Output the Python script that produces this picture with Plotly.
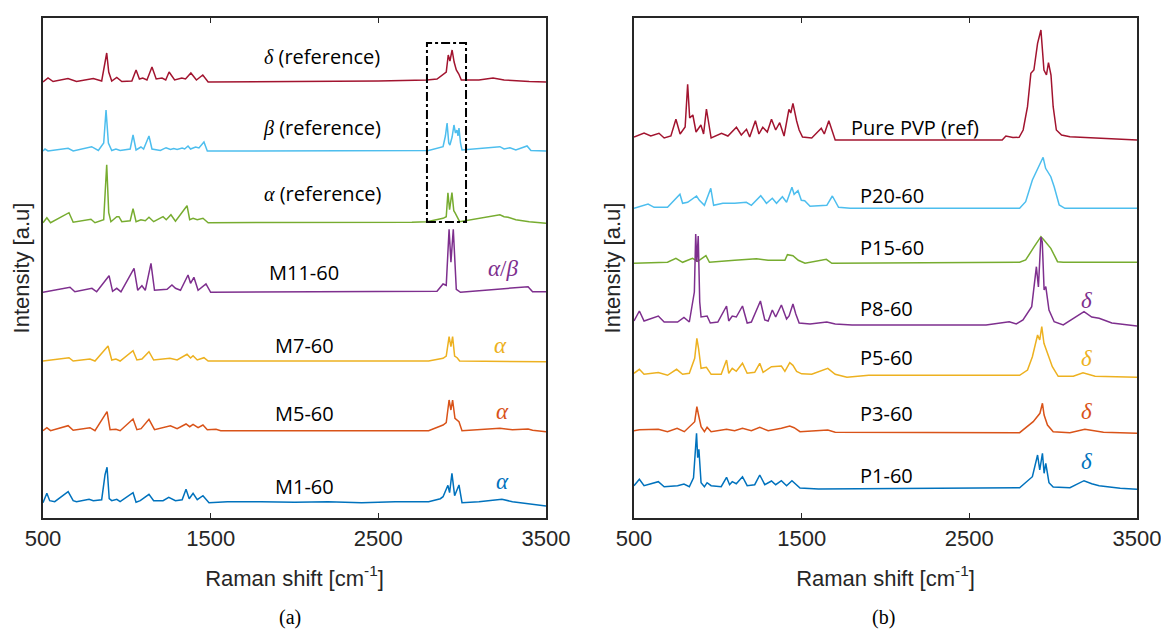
import plotly.graph_objects as go

# ---------------- Panel (a) spectra: Raman shift [cm-1] and intensity above each baseline ----------------
A_DELTA_X = [500, 530, 560, 649, 700, 800, 850, 870, 880, 892, 910, 940, 970, 1030, 1055, 1075, 1095, 1120, 1150, 1175,
             1210, 1232, 1252, 1285, 1328, 1350, 1382, 1415, 1453, 1485, 1600, 2000, 2500, 2790, 2850, 2886, 2905, 2917,
             2927, 2940, 2952, 2965, 2980, 2995, 3010, 3100, 3184, 3250, 3400, 3500]
A_DELTA_Y = [0, 4, 0.5, 3.5, 0.5, 3.5, 1, 20, 29, 10, 1, 4.5, 0.5, 1, 12, 3, 4, 2, 15, 3,
             4, 2, 10, 2, 4, 3, 9, 2, 7, 0, 0, 0.5, 1, 2, 3, 7, 10, 27,
             21, 32, 20, 12, 8, 2, 2, 2, 4, 2, 0.5, 0]

A_BETA_X = [500, 512, 530, 650, 680, 790, 830, 862, 876, 890, 910, 935, 960, 1020, 1037, 1055, 1084, 1100, 1132, 1150,
            1200, 1234, 1260, 1280, 1300, 1330, 1345, 1365, 1380, 1410, 1430, 1460, 1480, 2800, 2886, 2900, 2910, 2920,
            2927, 2940, 2951, 2960, 2969, 2975, 2981, 2990, 2999, 3225, 3250, 3285, 3320, 3387, 3410, 3500]
A_BETA_Y = [0, 2, 0, 2.7, 0, 4.3, 0.5, 8, 41, 8, 0.5, 2, 0.5, 2, 16, 1, 4, 2, 15, 2,
            0.5, 3.3, 1.5, 2.5, 1.5, 3, 2, 5, 2, 4, 3, 9, 0, 0.5, 4.3, 15, 28, 8,
            6, 14, 26, 18, 21, 15, 23, 8, 1, 4.3, 2, 3.3, 1, 5, 0.5, 0]

A_ALPHA_X = [500, 523, 545, 655, 680, 786, 810, 862, 872, 880, 892, 905, 940, 953, 970, 1020, 1037, 1055, 1084, 1110,
             1132, 1160, 1216, 1235, 1263, 1290, 1359, 1375, 1395, 1420, 1454, 1485, 2700, 2790, 2886, 2905, 2915,
             2925, 2939, 2950, 2957, 2970, 2985, 3225, 3250, 3274, 3320, 3400, 3500]
A_ALPHA_Y = [0, 5, 0, 10, 0.5, 3.4, 0, 3, 34, 58, 10, 1, 6, 6, 1, 2, 14, 1, 3, 2,
             5.4, 1, 6, 3, 8, 1.5, 17, 3, 4.4, 3, 4.4, 0, 0.5, 1, 4.4, 6, 30,
             13, 30, 12, 10, 6, 1, 8, 6, 5.4, 3, 1, -0.6]

A_M11_X = [500, 661, 690, 792, 820, 894, 915, 940, 965, 1043, 1065, 1090, 1110, 1144, 1165, 1240, 1269, 1290, 1320,
           1365, 1380, 1400, 1425, 1472, 1500, 2700, 2850, 2886, 2905, 2922, 2933, 2947, 2956, 2965, 2990, 3393, 3420,
           3500]
A_M11_Y = [0, 5, 0.5, 4, 0.5, 16.6, 1, 4, 0.5, 24, 2, 6.6, 2, 29, 2, 3, 7.3, 4, 2,
           17.3, 9, 15, 2, 8.3, 0, 0.5, 1, 8.3, 7, 63, 30, 63, 24, 3, 0, 5.6, 0.5,
           0.6]

A_M7_X = [500, 655, 680, 780, 810, 888, 910, 935, 960, 1037, 1060, 1090, 1132, 1160, 1257, 1300, 1359, 1380, 1395,
          1420, 1460, 1485, 2800, 2886, 2905, 2922, 2933, 2943, 2955, 2970, 2985, 3500]
A_M7_Y = [0, 3.3, 0, 2, 0, 15, 1, 2, 0, 10.3, 1, 2, 9.3, 1, 2.7, 1, 6.7, 3, 5.3,
          1, 3.3, 0, 0, 2.7, 5, 24.3, 14.3, 24.3, 5, 3.3, 0, -0.7]

A_M5_X = [500, 523, 545, 650, 680, 780, 810, 882, 900, 935, 960, 1037, 1060, 1085, 1132, 1165, 1260, 1300, 1353,
          1375, 1395, 1425, 1454, 1480, 1532, 1560, 2800, 2886, 2905, 2922, 2933, 2943, 2957, 2981, 2999, 3225, 3300,
          3393, 3420, 3500]
A_M5_Y = [0, 3, 0, 5, 0.5, 3, 0, 19, 1, 1.5, 0, 11.7, 1, 2, 11.4, 1, 5, 2, 6.7,
          4, 6.4, 3, 5.7, 1, 1.4, 0, 0, 5.7, 8, 30.7, 20.7, 30.7, 12.4, 9, 0, 2.4, 1,
          1.7, 0.5, -1]

A_M1_X = [500, 523, 540, 570, 650, 680, 700, 775, 800, 850, 870, 882, 895, 910, 940, 960, 1037, 1055, 1080, 1132,
          1160, 1216, 1250, 1290, 1330, 1353, 1372, 1395, 1420, 1454, 1490, 1600, 1800, 2000, 2200, 2400, 2600, 2800,
          2870, 2886, 2915, 2925, 2939, 2955, 2981, 2999, 3100, 3237, 3300, 3500]
A_M1_Y = [0, 9.4, 2, 1, 11, 2, 1, 3.4, 2, 3, 28, 35.4, 4, 2, 3.4, 1, 10, 0.5, 2, 8.4,
          2, 2, 5.4, 2, 3, 13.4, 4, 9.4, 3, 7, 0, 1, 1, 0.5, 1, 0, 1, 1,
          4, 6, 17.4, 10, 29.4, 7, 17.7, 0, 1, 3.4, 1, -3.3]

A_NAMES = ["δ (reference)", "β (reference)", "α (reference)", "M11-60", "M7-60", "M5-60", "M1-60"]
A_OFFSETS = [436, 367, 295.3, 225.7, 157, 87.3, 15.3]

# ---------------- Panel (b) spectra ----------------
B_PVP_X = [500, 560, 600, 649, 680, 720, 750, 775, 805, 820, 832, 851, 870, 899, 915, 932, 960, 1022, 1060, 1111,
           1140, 1171, 1190, 1224, 1245, 1268, 1295, 1320, 1345, 1369, 1395, 1424, 1435, 1448, 1470, 1485, 1505, 1560,
           1617, 1635, 1662, 1700, 1800, 2696, 2718, 2760, 2797, 2821, 2847, 2867, 2885, 2907, 2927, 2945, 2960, 2972,
           2987, 3000, 3019, 3050, 3100, 3300, 3500]
B_PVP_Y = [0, 4, 1, 3.7, -1, 1, 17.7, 3, 10, 52.7, 19, 22, 5, 12, 3, 28, -1, 3.7, 1, 9.7,
           2, 7.7, 0, 16.3, 3, 9.7, 5, 17.7, 7, 14.3, 1, 27.7, 24, 33.7, 16, 7, 0, -1,
           8.7, 3, 16.3, -3, -3, -3, 1, -0.5, -0.3, 7, 30.3, 63.7, 67, 93.7, 107, 67, 62, 74.3,
           62, 30.3, 7, 2, 0.3, -1, -3]

B_P20_X = [500, 584, 620, 700, 774, 790, 820, 873, 890, 920, 958, 975, 1030, 1100, 1170, 1200, 1256, 1290, 1325,
           1350, 1385, 1410, 1442, 1455, 1478, 1498, 1518, 1550, 1650, 1683, 1720, 1790, 2800, 2836, 2876, 2916, 2940,
           2955, 2986, 3006, 3036, 3070, 3500]
B_P20_Y = [0, 4.3, 1, 1, 14, 5, 6, 12.3, 8, 3, 20, 3, 5, 5, 6, 3, 12.6, 5, 10,
           5, 11.6, 6, 21, 14, 17.6, 8, 7.6, 2, 3, 12.3, 1, 0, 0, 6.6, 28.3, 41.6, 51,
           40, 31.6, 21.6, 3.3, 0, 0]

B_P15_X = [500, 700, 750, 790, 849, 880, 929, 950, 1100, 1230, 1300, 1400, 1415, 1448, 1480, 1520, 1647, 1680, 2800,
           2836, 2887, 2927, 2945, 2986, 3026, 3060, 3500]
B_P15_Y = [0, 1, 5, 1, 5, 2, 7.6, 1, 3, 4.6, 3, 3, 8.6, 7.6, 3, 0, 4, 0, 1,
           3.3, 16.6, 26.6, 23.3, 15, 1.6, 1, 1]

B_P8_X = [500, 532, 560, 645, 680, 760, 798, 830, 860, 868, 875, 883, 892, 900, 936, 955, 1000, 1052, 1065, 1086,
          1110, 1147, 1175, 1200, 1254, 1280, 1300, 1325, 1345, 1379, 1410, 1425, 1448, 1465, 1485, 1550, 1650, 1700,
          1800, 2600, 2738, 2780, 2820, 2872, 2900, 2912, 2927, 2935, 2946, 2956, 2975, 3006, 3060, 3155, 3184, 3230,
          3274, 3350, 3500]
B_P8_Y = [1, 11, 1, 6, 0, 0, 4.6, 0, 30, 88, 60, 86, 20, 5, 6, -1, 0, 16, 1, 6,
          5, 16, -1, 0, 21, 2, 1, 12, 5, 17, 3, 6, 18, 8, -1, -2, 0, -2,
          -3, -3, 0.3, -2, 2, 15.3, 55.3, 35, 85, 80, 32, 35.3, 12, 0.3, -3, 7, 10.3, 5,
          3.7, -1, -4]

B_P5_X = [500, 532, 560, 645, 700, 754, 790, 830, 862, 875, 885, 900, 932, 960, 1020, 1052, 1065, 1086, 1110, 1147,
          1175, 1220, 1250, 1270, 1320, 1379, 1400, 1429, 1448, 1470, 1500, 1560, 1656, 1700, 1770, 1900, 2800, 2847,
          2876, 2907, 2920, 2932, 2945, 2966, 2995, 3030, 3120, 3178, 3250, 3500]
B_P5_Y = [0, 4, -1, 0.7, -2, 4, -1, 0, 15, 35, 25, 5, 6, -1, -1, 13.3, 0, 5, 2, 10,
          0, 1, 10, 1, 6.6, 7.3, 2, 10.6, 8, 2, -0.5, -1, 5, -1, -4, -2, -2, 3.3,
          16.6, 38.3, 33.3, 46.6, 30, 20, 6.6, -3, -3, 0.6, -3, -4]

B_P3_X = [500, 532, 645, 700, 757, 800, 862, 875, 885, 900, 920, 936, 960, 1052, 1100, 1147, 1200, 1250, 1300,
          1379, 1429, 1455, 1490, 1656, 1700, 2800, 2881, 2921, 2936, 2946, 2966, 3000, 3100, 3189, 3300, 3500]
B_P3_Y = [1, 2, 2.4, 0, 3.4, 0, 10, 25, 16.7, 5, 0, 4.4, 0, 2.4, 1, 3.4, 1, 4.4, 1,
          3.4, 5.7, 4, 0, 1.7, -0.5, -1, 10, 18.4, 28.4, 16.7, 6.7, 0, -1, 2.4, -0.5, -1.6]

B_P1_X = [500, 532, 560, 645, 680, 760, 798, 830, 855, 873, 880, 887, 900, 920, 936, 960, 1020, 1052, 1070, 1086,
          1110, 1147, 1175, 1220, 1250, 1280, 1320, 1345, 1379, 1410, 1442, 1490, 1600, 2600, 2800, 2876, 2907, 2920,
          2936, 2946, 2956, 2975, 3000, 3100, 3184, 3230, 3274, 3400, 3500]
B_P1_Y = [2, 8.4, 2, 6, 1, 2, 3.7, 1, 10, 54.4, 30, 38.4, 5, 1, 5, 2, 1, 10.4, 3, 6,
          4, 11, 2, 3, 12.7, 3, 6.7, 3, 7, 2, 7, -0.3, -1.3, -0.6, 0, 11, 32.7, 17.7,
          34.4, 14.4, 24.4, 5, 0.6, 0, 7, 4, 2, -0.6, -1.6]

B_NAMES = ["Pure PVP (ref)", "P20-60", "P15-60", "P8-60", "P5-60", "P3-60", "P1-60"]
B_OFFSETS = [381, 309.7, 254.7, 196, 144.7, 86.3, 30.3]

COLORS = ["#A2142F", "#4DBEEE", "#77AC30", "#7E2F8E", "#EDB120", "#D95319", "#0072BD"]

A_SERIES = [(A_DELTA_X, A_DELTA_Y), (A_BETA_X, A_BETA_Y), (A_ALPHA_X, A_ALPHA_Y), (A_M11_X, A_M11_Y),
            (A_M7_X, A_M7_Y), (A_M5_X, A_M5_Y), (A_M1_X, A_M1_Y)]
B_SERIES = [(B_PVP_X, B_PVP_Y), (B_P20_X, B_P20_Y), (B_P15_X, B_P15_Y), (B_P8_X, B_P8_Y),
            (B_P5_X, B_P5_Y), (B_P3_X, B_P3_Y), (B_P1_X, B_P1_Y)]

X_TICKS = [500, 1500, 2500, 3500]
X_TICK_TEXT = ["500", "1500", "2500", "3500"]

fig = go.Figure()

for (xs, ys), off, col, nm in zip(A_SERIES, A_OFFSETS, COLORS, A_NAMES):
    fig.add_trace(go.Scatter(x=xs, y=[v + off for v in ys], mode="lines", name=nm,
                             line=dict(color=col, width=1.5), xaxis="x", yaxis="y", showlegend=False))
for (xs, ys), off, col, nm in zip(B_SERIES, B_OFFSETS, COLORS, B_NAMES):
    fig.add_trace(go.Scatter(x=xs, y=[v + off for v in ys], mode="lines", name=nm,
                             line=dict(color=col, width=1.5), xaxis="x2", yaxis="y2", showlegend=False))

AX_COL = "#262626"
# the page body has an 8px margin, so the figure is laid out 8px in from the window edges
PAGE_OFF = 8
W, H = 1160, 639 - 2 * PAGE_OFF
ydom = [1 - (518 - PAGE_OFF) / H, 1 - (18 - PAGE_OFF) / H]

xaxis_common = dict(range=[500, 3500], tickvals=X_TICKS, ticktext=X_TICK_TEXT, ticks="inside", ticklen=5,
                    tickwidth=1.3, tickcolor=AX_COL, showline=True, linewidth=1.6, linecolor=AX_COL, mirror="ticks",
                    showgrid=False, zeroline=False, automargin=False,
                    tickfont=dict(family="Liberation Sans", size=22, color=AX_COL),
                    title=dict(text="Raman shift [cm<sup>-1</sup>]",
                               font=dict(family="Liberation Sans", size=22, color=AX_COL), standoff=20))
yaxis_common = dict(range=[0, 500], showticklabels=False, ticks="", showline=True, linewidth=1.6,
                    linecolor=AX_COL, mirror=True, showgrid=False, zeroline=False, automargin=False,
                    title=dict(text="Intensity [a.u]", font=dict(family="Liberation Sans", size=22, color=AX_COL),
                               standoff=6))

fig.update_layout(
    width=W, height=H, margin=dict(l=0, r=0, t=0, b=0, autoexpand=False),
    paper_bgcolor="white", plot_bgcolor="white",
    xaxis=dict(domain=[(43 - PAGE_OFF) / W, (546 - PAGE_OFF) / W], anchor="y", **xaxis_common),
    yaxis=dict(domain=ydom, anchor="x", **yaxis_common),
    xaxis2=dict(domain=[(634 - PAGE_OFF) / W, (1137 - PAGE_OFF) / W], anchor="y2", **xaxis_common),
    yaxis2=dict(domain=ydom, anchor="x2", **yaxis_common),
)

# dashed box around the C-H region of the reference spectra
fig.add_shape(type="rect", xref="x", yref="y", x0=2790, x1=3023, y0=296, y1=475,
              line=dict(color="black", width=2, dash="dashdot"))

GREEK = "font-family:'Liberation Serif'"
LBL_FONT = dict(family="Open Sans", size=20, color="black")


def gk(s):
    return "<span style=\"%s\"><i>%s</i></span>" % (GREEK, s)


a_labels = [(gk("δ") + " (reference)", 2164, 461), (gk("β") + " (reference)", 2164, 391),
            (gk("α") + " (reference)", 2164, 325), ("M11-60", 2057, 246), ("M7-60", 2057, 173),
            ("M5-60", 2057, 105), ("M1-60", 2057, 32)]
for txt, x, y in a_labels:
    fig.add_annotation(text=txt, x=x, y=y, xref="x", yref="y", showarrow=False, font=LBL_FONT,
                       xanchor="center", yanchor="middle")

a_phase = [(gk("α") + "/" + gk("β"), 3243, 250, COLORS[3]), (gk("α"), 3226, 173, COLORS[4]),
           (gk("α"), 3238, 107, COLORS[5]), (gk("α"), 3238, 37, COLORS[6])]
for txt, x, y, c in a_phase:
    fig.add_annotation(text=txt, x=x, y=y, xref="x", yref="y", showarrow=False, xanchor="center", yanchor="middle",
                       font=dict(family="Liberation Serif", size=23, color=c))

b_labels = [("Pure PVP (ref)", 2178, 391), ("P20-60", 2036, 323), ("P15-60", 2036, 271), ("P8-60", 2006, 210),
            ("P5-60", 2006, 161), ("P3-60", 2006, 105), ("P1-60", 2006, 43)]
for txt, x, y in b_labels:
    fig.add_annotation(text=txt, x=x, y=y, xref="x2", yref="y2", showarrow=False, font=LBL_FONT,
                       xanchor="center", yanchor="middle")

b_phase = [(218, COLORS[3]), (160, COLORS[4]), (107, COLORS[5]), (57, COLORS[6])]
for y, c in b_phase:
    fig.add_annotation(text=gk("δ"), x=3196, y=y, xref="x2", yref="y2", showarrow=False,
                       xanchor="center", yanchor="middle",
                       font=dict(family="Liberation Serif", size=23, color=c))

for txt, xpx in [("(a)", 290), ("(b)", 883)]:
    fig.add_annotation(text=txt, x=(xpx - PAGE_OFF) / W, y=0, xref="paper", yref="paper",
                       showarrow=False, xanchor="center", yanchor="bottom",
                       font=dict(family="Liberation Serif", size=20, color="black"))

fig.write_html("out.html")
